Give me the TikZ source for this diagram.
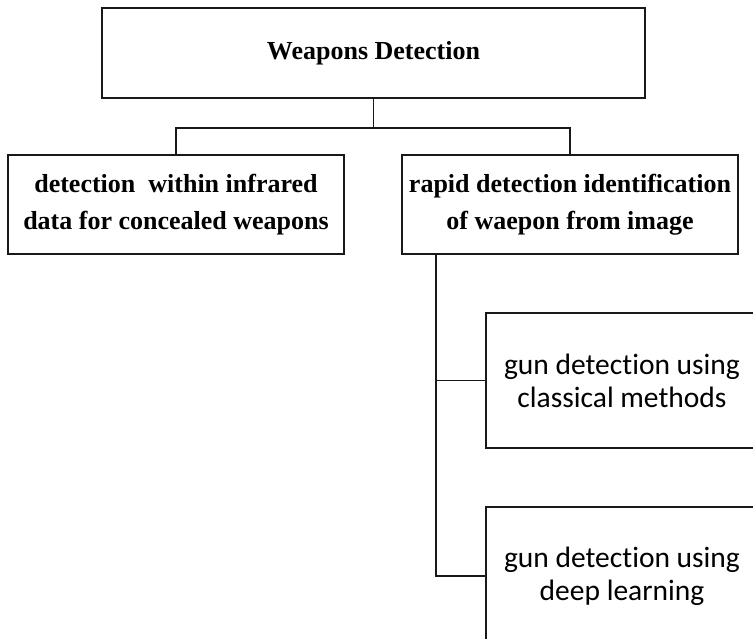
\documentclass[tikz,border=0pt]{standalone}
\usepackage{fontspec}
\setmainfont{Liberation Serif}
\newfontfamily\sansf[Ligatures=NoCommon]{Carlito}
\usetikzlibrary{calc}
\tikzset{
  treebox/.style={draw=black!90, line width=1.7pt, fill=white, inner sep=0pt,
    align=center, font=\fontsize{26}{37}\selectfont\bfseries},
  leafbox/.style={draw=black!90, line width=1.7pt, fill=white, inner sep=0pt,
    align=center, font=\fontsize{29.5}{33}\selectfont\sansf},
  link/.style={draw=black!90, line width=1.8pt}
}
\begin{document}
\begin{tikzpicture}[x=1pt,y=-1pt]
  \useasboundingbox (0,0) rectangle (753,639);
  \clip (0,0) rectangle (753,639);

  % root and first level
  \node[treebox, minimum width=543pt, minimum height=90pt] (root) at (373.5,53) {Weapons Detection};
  \node[treebox, minimum width=336pt, minimum height=99pt] (ir) at (176,204.5)
    {detection\ \ within infrared\\data for concealed weapons};
  \node[treebox, minimum width=336pt, minimum height=99pt] (img) at (570,204.5)
    {rapid detection identification\\of waepon from image};

  % second level under the image branch
  \node[leafbox, minimum width=272pt, minimum height=135pt] (classic) at (622,380.5)
    {gun detection using\\classical methods};
  \node[leafbox, minimum width=272pt, minimum height=138pt] (deep) at (622,576)
    {gun detection using\\deep learning};

  % connectors
  \coordinate (split) at ($(root.south)+(0,29)$);
  \draw[link] (root.south) -- (split) -| (ir.north);
  \draw[link] (split) -| (img.north);
  \coordinate (trunk) at ($(img.south)+(-134,0)$);
  \draw[link] (trunk) |- (classic.west);
  \draw[link] (trunk) |- (deep.west);
\end{tikzpicture}
\end{document}
